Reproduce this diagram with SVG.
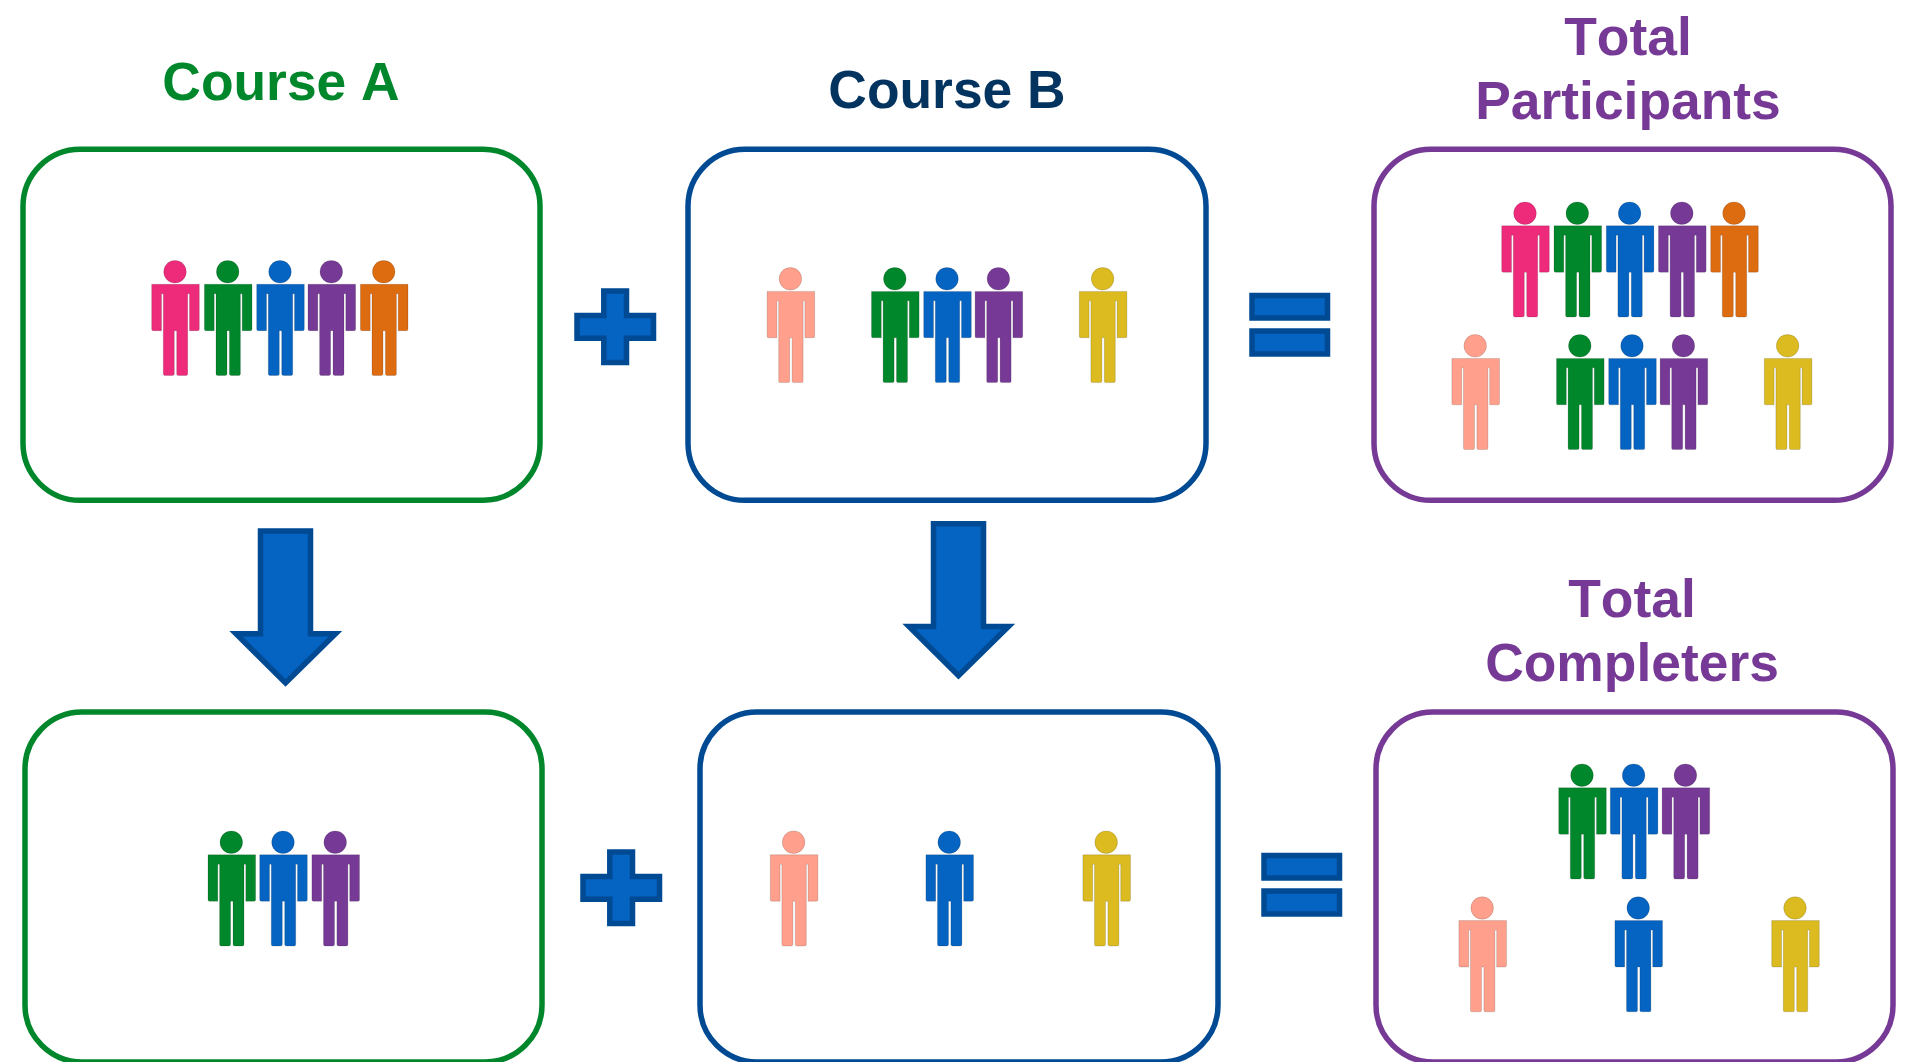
<svg xmlns="http://www.w3.org/2000/svg" width="1908" height="1062" viewBox="0 0 1908 1062">
<style>
.t{font-family:"Liberation Sans",Arial,sans-serif;font-weight:700;font-size:53.4px;text-anchor:middle;font-kerning:none}
.box{fill:#fff;stroke-width:5.5}
.gb{stroke:#00862B}.bb{stroke:#004A94}.pb{stroke:#763A96}
.op{fill:#0563C1;stroke:#004A94;stroke-width:5.5;stroke-miterlimit:10}
.p{stroke:#000;stroke-opacity:.18;stroke-width:.8}
.pk{fill:#EE2A7B}.gr{fill:#00862B}.bl{fill:#0563C1}.pu{fill:#763A96}.or{fill:#DD6B10}.sa{fill:#FF9F8C}.ye{fill:#DBBB20}
</style>
<defs>
<g id="person">
<circle cx="0" cy="0" r="11.3"/>
<path transform="translate(.5 0)" d="M-23.8 12.6H23.8V57.6Q23.8 59 22.4 59H14V22H12.2V102.4Q12.2 103.8 10.8 103.8H3Q1.2 103.8 1.2 102.4V59H-1.2V102.4Q-1.2 103.8 -3 103.8H-10.8Q-12.2 103.8 -12.2 102.4V22H-14V59H-22.4Q-23.8 59 -23.8 57.6Z"/>
</g>
</defs>
<rect width="1908" height="1062" fill="#fff"/>
<text class="t" x="281" y="100" fill="#00862B">Course A</text>
<text class="t" x="947" y="108" fill="#03335F">Course B</text>
<text class="t" x="1628" y="54.7" fill="#763A96">Total</text>
<text class="t" x="1628" y="118.7" fill="#763A96">Participants</text>
<text class="t" x="1632" y="617.3" fill="#763A96">Total</text>
<text class="t" x="1632" y="681" fill="#763A96">Completers</text>

<g id="connectors">
<path class="op" d="M603.8 291H626.5V315.5H653.5V338.2H626.5V362.5H603.8V338.2H577V315.5H603.8Z"/>
<path class="op" d="M609.8 852H632.5V876.5H659.5V899.2H632.5V923.5H609.8V899.2H583V876.5H609.8Z"/>
<path class="op" d="M1252 295.5H1327.5V318H1252ZM1252 331H1327.5V354H1252Z"/>
<path class="op" d="M1264 855.5H1339.5V878H1264ZM1264 891H1339.5V914H1264Z"/>
<path class="op" d="M260.5 531H310.5V633.7H335.5L285.5 683L236 633.7H260.5Z"/>
<path class="op" d="M933.5 523.7H983.5V626.4H1008.5L958.5 675.7L909 626.4H933.5Z"/>
</g>

<g id="box-a-top"><rect class="box gb" x="23" y="149.3" width="517" height="351" rx="57"/>
<use href="#person" class="p pk" x="175" y="271.7"/><use href="#person" class="p gr" x="227.7" y="271.7"/><use href="#person" class="p bl" x="280" y="271.7"/><use href="#person" class="p pu" x="331.3" y="271.7"/><use href="#person" class="p or" x="383.7" y="271.7"/></g>
<g id="box-b-top"><rect class="box bb" x="688" y="149.3" width="518" height="351" rx="57"/>
<use href="#person" class="p sa" x="790.4" y="278.8"/><use href="#person" class="p gr" x="894.8" y="278.8"/><use href="#person" class="p bl" x="947" y="278.8"/><use href="#person" class="p pu" x="998.4" y="278.8"/><use href="#person" class="p ye" x="1102.6" y="278.8"/></g>
<g id="box-total-top"><rect class="box pb" x="1374" y="149.3" width="517" height="351" rx="57"/>
<use href="#person" class="p pk" x="1525" y="213.2"/><use href="#person" class="p gr" x="1577.3" y="213.2"/><use href="#person" class="p bl" x="1629.6" y="213.2"/><use href="#person" class="p pu" x="1681.8" y="213.2"/><use href="#person" class="p or" x="1734" y="213.2"/>
<use href="#person" class="p sa" x="1475.2" y="345.8"/><use href="#person" class="p gr" x="1579.8" y="345.8"/><use href="#person" class="p bl" x="1632" y="345.8"/><use href="#person" class="p pu" x="1683.4" y="345.8"/><use href="#person" class="p ye" x="1787.6" y="345.8"/></g>
<g id="box-a-bottom"><rect class="box gb" x="25" y="712" width="517" height="350" rx="57"/>
<use href="#person" class="p gr" x="231.3" y="842.2"/><use href="#person" class="p bl" x="283" y="842.2"/><use href="#person" class="p pu" x="335.2" y="842.2"/></g>
<g id="box-b-bottom"><rect class="box bb" x="700" y="712" width="518" height="350" rx="57"/>
<use href="#person" class="p sa" x="793.6" y="842.2"/><use href="#person" class="p bl" x="949.2" y="842.2"/><use href="#person" class="p ye" x="1106.2" y="842.2"/></g>
<g id="box-total-bottom"><rect class="box pb" x="1376" y="712" width="517" height="350" rx="57"/>
<use href="#person" class="p gr" x="1582" y="775.2"/><use href="#person" class="p bl" x="1633.6" y="775.2"/><use href="#person" class="p pu" x="1685.4" y="775.2"/>
<use href="#person" class="p sa" x="1482.2" y="908"/><use href="#person" class="p bl" x="1638.2" y="908"/><use href="#person" class="p ye" x="1795" y="908"/></g>
</svg>
